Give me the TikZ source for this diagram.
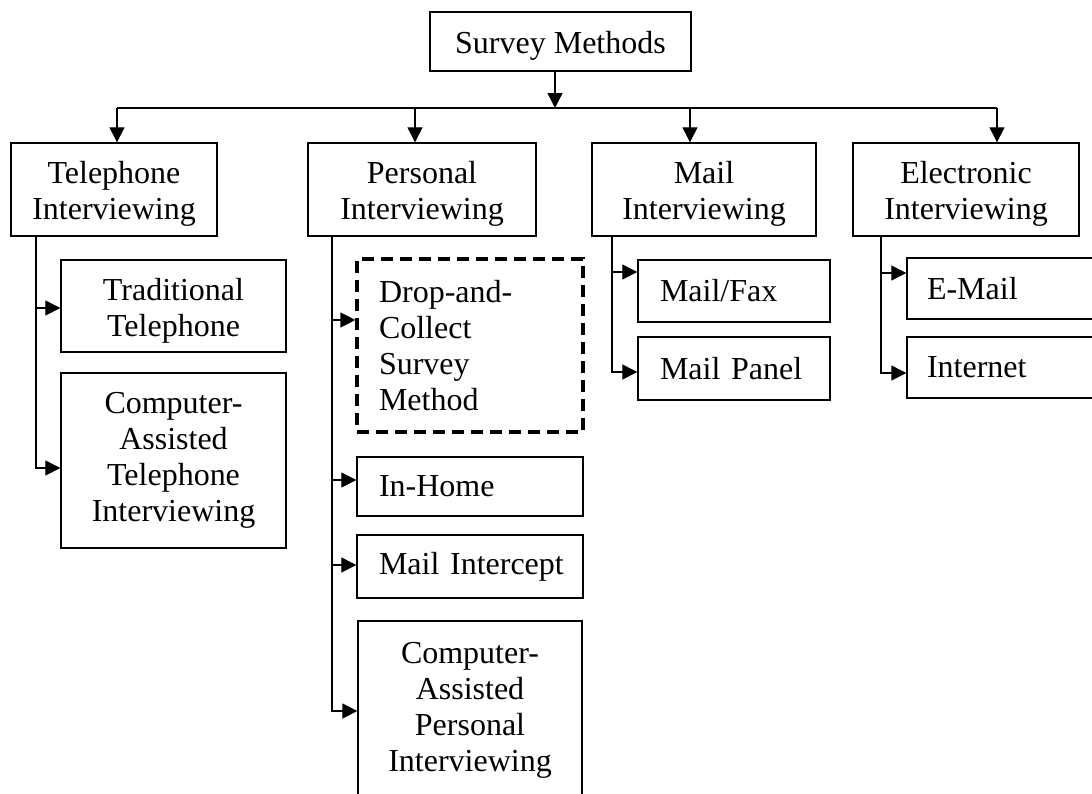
\documentclass[tikz,border=0pt]{standalone}
\usepackage{fontspec}
\setmainfont{Liberation Serif}
\usetikzlibrary{arrows.meta}
\newcommand\fsz{\fontsize{32}{36}\selectfont}
\newcommand\tup{\rule{0pt}{31pt}}
\tikzset{
  bx/.style={draw, line width=1.4pt, inner sep=0pt, align=center, font=\fsz},
  lbx/.style={bx, align=left, inner xsep=22pt},
  dbx/.style={lbx, line width=3.2pt, dash pattern=on 12pt off 7pt},
  arr/.style={line width=1.3pt, -{Triangle[length=15pt,width=15pt]}},
  ln/.style={line width=1.3pt}
}
\begin{document}
\begin{tikzpicture}[x=1pt,y=-1pt]
\useasboundingbox (0,0) rectangle (1092,793);
\clip (0,0) rectangle (1092,793);
% root
\node[bx, minimum width=261pt, minimum height=59pt] (survey) at (560.5,41.5) {\tup Survey Methods};
% level 1
\node[bx, minimum width=206pt, minimum height=93pt] (tel) at (114,189.5) {\tup Telephone\\Interviewing};
\node[bx, minimum width=228pt, minimum height=93pt] (pers) at (422,189.5) {\tup Personal\\Interviewing};
\node[bx, minimum width=224pt, minimum height=93pt] (mail) at (704,189.5) {\tup Mail\\Interviewing};
\node[bx, minimum width=226pt, minimum height=93pt] (elec) at (966,189.5) {\tup Electronic\\Interviewing};
% telephone children
\node[bx, minimum width=225pt, minimum height=92pt] (trad) at (173.5,306) {\tup Traditional\\Telephone};
\node[bx, minimum width=225pt, minimum height=175pt] (cati) at (173.5,460.5) {Computer-\\Assisted\\Telephone\\Interviewing};
% personal children
\node[dbx, text width=182pt, minimum height=173pt] (drop) at (470,345.5) {Drop-and-\\Collect\\Survey\\Method};
\node[lbx, text width=182pt, minimum height=59pt] (inhome) at (470,486.5) {In-Home};
\node[lbx, text width=182pt, minimum height=63pt] (mint) at (470,566.5) {\mbox{Mail Intercept}};
\node[bx, minimum width=224pt, minimum height=179pt] (capi) at (470,710.5) {Computer-\\Assisted\\Personal\\Interviewing};
% mail children
\node[lbx, text width=148pt, minimum height=62pt] (mfax) at (734,291) {Mail/Fax};
\node[lbx, text width=148pt, minimum height=63pt] (mpanel) at (734,368.5) {Mail Panel};
% electronic children
\node[lbx, inner xsep=20pt, text width=163pt, minimum height=61pt] (email) at (1008.5,288.5) {E-Mail};
\node[lbx, inner xsep=20pt, text width=163pt, minimum height=61pt] (inet) at (1008.5,367.5) {Internet};
% bus
\coordinate (bus0) at (555,108);
\coordinate (bT) at (117,108);
\coordinate (bP) at (415,108);
\coordinate (bM) at (690,108);
\coordinate (bE) at (997,108);
\draw[arr] (survey.south -| bus0) -- (bus0);
\draw[ln] (bT) -- (bE);
\draw[arr] (bT) -- (bT |- tel.north);
\draw[arr] (bP) -- (bP |- pers.north);
\draw[arr] (bM) -- (bM |- mail.north);
\draw[arr] (bE) -- (bE |- elec.north);
% trunks
\coordinate (tT) at (36,0);
\coordinate (tP) at (332,0);
\coordinate (tM) at (612,0);
\coordinate (tE) at (881,0);
\draw[arr] (tel.south -| tT) |- (trad.west |- 0,308);
\draw[arr] (tel.south -| tT) |- (cati.west |- 0,468);
\draw[arr] (pers.south -| tP) |- (drop.west |- 0,320);
\draw[arr] (pers.south -| tP) |- (inhome.west |- 0,480);
\draw[arr] (pers.south -| tP) |- (mint.west |- 0,565);
\draw[arr] (pers.south -| tP) |- (capi.west |- 0,711);
\draw[arr] (mail.south -| tM) |- (mfax.west |- 0,272);
\draw[arr] (mail.south -| tM) |- (mpanel.west |- 0,372);
\draw[arr] (elec.south -| tE) |- (email.west |- 0,273);
\draw[arr] (elec.south -| tE) |- (inet.west |- 0,373);
\end{tikzpicture}
\end{document}
